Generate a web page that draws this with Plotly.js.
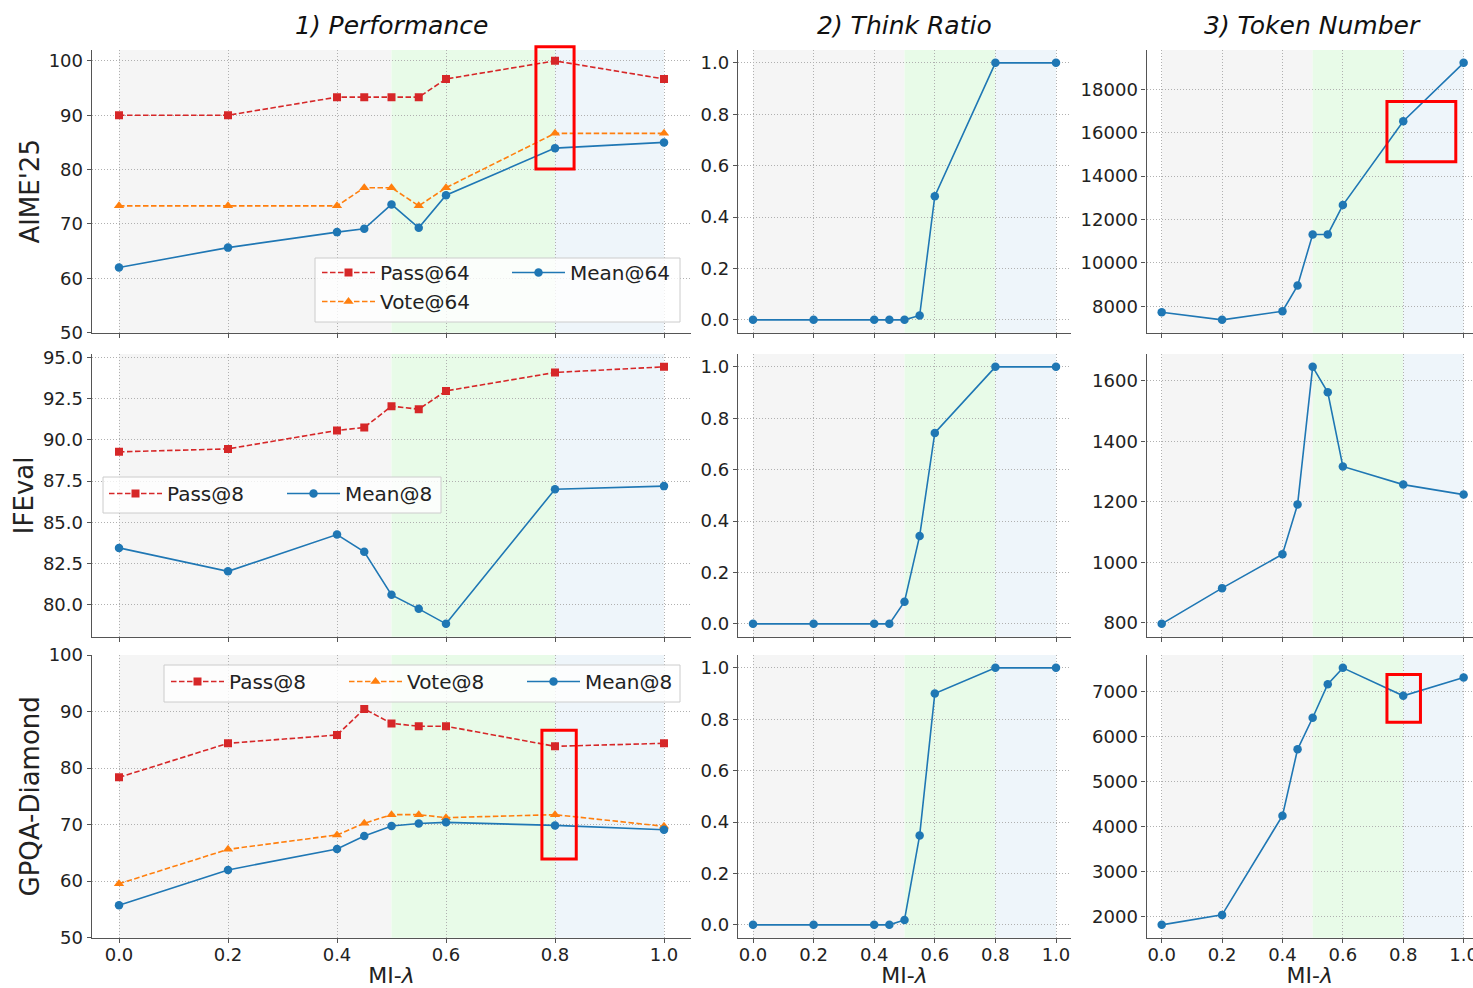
<!DOCTYPE html>
<html><head><meta charset="utf-8">
<script src="https://cdn.plot.ly/plotly-3.0.1.min.js"></script>
<style>html,body{margin:0;padding:0;background:#fff}</style>
</head><body><div id="chart" style="width:1473px;height:988px"></div>
<script>
// ---------------- data ----------------
const lambdas = [0.0, 0.2, 0.4, 0.45, 0.5, 0.55, 0.6, 0.8, 1.0];

const aimePass   = [90.0, 90.0, 93.33, 93.33, 93.33, 93.33, 96.67, 100.0, 96.67];
const aimeVote   = [73.33, 73.33, 73.33, 76.67, 76.67, 73.33, 76.67, 86.67, 86.67];
const aimeMean   = [62.0, 65.65, 68.5, 69.1, 73.6, 69.3, 75.3, 83.95, 85.0];
const aimeThink  = [0, 0, 0, 0, 0, 0.017, 0.481, 1.0, 1.0];
const aimeTokens = [7724, 7374, 7770, 8953, 11310, 11315, 12666, 16531, 19224];

const ifevalPass   = [89.27, 89.45, 90.57, 90.75, 92.04, 91.86, 92.97, 94.09, 94.43];
const ifevalMean   = [83.44, 82.02, 84.25, 83.2, 80.59, 79.74, 78.83, 87.0, 87.19];
const ifevalThink  = [0, 0, 0, 0, 0.086, 0.342, 0.743, 1.0, 1.0];
const ifevalTokens = [797, 915, 1027, 1191, 1646, 1562, 1317, 1257, 1224];

const gpqaPass   = [78.37, 84.38, 85.85, 90.45, 87.9, 87.4, 87.4, 83.85, 84.38];
const gpqaVote   = [59.55, 65.63, 68.17, 70.23, 71.76, 71.76, 71.23, 71.76, 69.7];
const gpqaMean   = [55.73, 61.99, 65.7, 68.0, 69.77, 70.2, 70.4, 69.86, 69.1];
const gpqaThink  = [0, 0, 0, 0, 0.019, 0.348, 0.90, 1.0, 1.0];
const gpqaTokens = [1823, 2044, 4243, 5712, 6412, 7155, 7518, 6898, 7303];

const rowLabels = ["AIME'25", "IFEval", "GPQA-Diamond"];
const colTitles = ["1) Performance", "2) Think Ratio", "3) Token Number"];
const xTickVals = [0.0, 0.2, 0.4, 0.6, 0.8, 1.0];
const xLabel = "MI-<i>λ</i>";

// shaded λ regions
const regionEdges  = [0.0, 0.5, 0.8, 1.0];
const regionColors = ['#f5f5f5', '#e8fbe8', '#eef5fa'];

// red highlight boxes: [row, col, x0, x1, y0, y1]
const highlights = [
  [0, 0, 0.765, 0.835, 80.1, 102.6],
  [2, 0, 0.776, 0.839, 63.9, 86.7],
  [0, 2, 0.746, 0.974, 14660, 17440],
  [2, 2, 0.746, 0.857, 6315, 7370]
];

// ---------------- geometry ----------------
const W = 1473, H = 988;
const colPx = [[91.75, 691.25], [737.85, 1071.15], [1146.6, 1473]];
const rowPx = [[50, 332.7], [354, 636.7], [655, 937.7]];
const xRanges = [[-0.05, 1.05], [-0.05, 1.05], [-0.05, 1.031]];

function autoRange(arr) {
  const mn = Math.min(...arr), mx = Math.max(...arr), s = mx - mn;
  return [mn - 0.05 * s, mx + 0.05 * s];
}

const yCfg = [
  [{range: [50, 102], dtick: 10, fmt: 'd'},
   {range: autoRange(aimeThink), dtick: 0.2, fmt: '.1f'},
   {range: autoRange(aimeTokens), dtick: 2000, fmt: 'd'}],
  [{range: autoRange(ifevalPass.concat(ifevalMean)), dtick: 2.5, fmt: '.1f'},
   {range: autoRange(ifevalThink), dtick: 0.2, fmt: '.1f'},
   {range: autoRange(ifevalTokens), dtick: 200, fmt: 'd'}],
  [{range: [50, 100], dtick: 10, fmt: 'd'},
   {range: autoRange(gpqaThink), dtick: 0.2, fmt: '.1f'},
   {range: autoRange(gpqaTokens), dtick: 1000, fmt: 'd'}]
];

const C = {pass: '#d62728', vote: '#ff7f0e', mean: '#1f77b4'};
const styles = {
  pass: {line: {color: C.pass, width: 1.6, dash: '5.5px,2.5px'}, marker: {symbol: 'square', size: 8, color: C.pass}},
  vote: {line: {color: C.vote, width: 1.6, dash: '5.5px,2.5px'}, marker: {symbol: 'triangle-up', size: 9, color: C.vote}},
  mean: {line: {color: C.mean, width: 1.6}, marker: {symbol: 'circle', size: 8.5, color: C.mean}}
};

function ax(r, c) { const i = r * 3 + c + 1; return i === 1 ? '' : String(i); }

const traces = [];
function add(r, c, y, kind, name, legend) {
  const s = styles[kind];
  traces.push({
    type: 'scatter', mode: 'lines+markers', x: lambdas, y: y,
    xaxis: 'x' + ax(r, c), yaxis: 'y' + ax(r, c),
    name: name, line: s.line, marker: s.marker,
    showlegend: !!legend, legend: legend || 'legend', hoverinfo: 'x+y'
  });
}

// Performance column
add(0, 0, aimePass, 'pass', 'Pass@64', 'legend');
add(0, 0, aimeVote, 'vote', 'Vote@64', 'legend');
add(0, 0, aimeMean, 'mean', 'Mean@64', 'legend2');
add(1, 0, ifevalPass, 'pass', 'Pass@8', 'legend3');
add(1, 0, ifevalMean, 'mean', 'Mean@8', 'legend3');
add(2, 0, gpqaPass, 'pass', 'Pass@8', 'legend4');
add(2, 0, gpqaVote, 'vote', 'Vote@8', 'legend4');
add(2, 0, gpqaMean, 'mean', 'Mean@8', 'legend4');
// Think ratio
add(0, 1, aimeThink, 'mean', 'Think');
add(1, 1, ifevalThink, 'mean', 'Think');
add(2, 1, gpqaThink, 'mean', 'Think');
// Tokens
add(0, 2, aimeTokens, 'mean', 'Tokens');
add(1, 2, ifevalTokens, 'mean', 'Tokens');
add(2, 2, gpqaTokens, 'mean', 'Tokens');

const font = 'DejaVu Sans, Verdana, sans-serif';
const layout = {
  width: W, height: H, margin: {l: 0, r: 0, t: 0, b: 0},
  paper_bgcolor: '#ffffff', plot_bgcolor: '#ffffff',
  font: {family: font, size: 18, color: '#222'},
  hovermode: 'closest',
  shapes: [], annotations: []
};

const axisCommon = {
  showline: true, linecolor: '#555', linewidth: 1.3, mirror: false,
  ticks: 'outside', ticklen: 4, tickwidth: 1.1, tickcolor: '#555',
  showgrid: true, gridcolor: '#b0b0b0', gridwidth: 0.9, griddash: '1px,2px',
  zeroline: false, automargin: false, tickfont: {size: 18, family: font, color: '#222'}
};

for (let r = 0; r < 3; r++) {
  for (let c = 0; c < 3; c++) {
    const id = ax(r, c);
    const cfg = yCfg[r][c];
    layout['xaxis' + id] = Object.assign({}, axisCommon, {
      domain: [colPx[c][0] / W, colPx[c][1] / W],
      range: xRanges[c], anchor: 'y' + id,
      tickmode: 'array', tickvals: xTickVals, tickformat: '.1f',
      showticklabels: r === 2, ticklabeloverflow: 'allow', ticklabelstandoff: -3,
      title: r === 2 ? {text: xLabel, font: {size: 22, family: font, color: '#222'}, standoff: 3} : undefined
    });
    layout['yaxis' + id] = Object.assign({}, axisCommon, {
      domain: [1 - rowPx[r][1] / H, 1 - rowPx[r][0] / H],
      range: cfg.range, anchor: 'x' + id,
      tick0: 0, dtick: cfg.dtick, tickformat: cfg.fmt,
      title: c === 0 ? {text: rowLabels[r], font: {size: 26, family: font, color: '#222'}, standoff: 1} : undefined
    });
    // background regions
    for (let k = 0; k < regionColors.length; k++) {
      layout.shapes.push({
        type: 'rect', layer: 'below', xref: 'x' + id, yref: 'y' + id + ' domain',
        x0: regionEdges[k], x1: regionEdges[k + 1], y0: 0, y1: 1,
        fillcolor: regionColors[k], line: {width: 0}
      });
    }
  }
}

// legend frames (matplotlib-style boxes), pixel -> paper
function px(x) { return x / W; }
function py(y) { return 1 - y / H; }
const legendBoxes = [[315, 258, 680, 322], [103, 477, 441, 513], [164, 665, 680, 702]];
legendBoxes.forEach(b => layout.shapes.push({
  type: 'rect', layer: 'above', xref: 'paper', yref: 'paper',
  x0: px(b[0]), x1: px(b[2]), y0: py(b[3]), y1: py(b[1]),
  fillcolor: 'rgba(255,255,255,0.8)', line: {color: '#cccccc', width: 1}
}));

// highlight rectangles
highlights.forEach(h => {
  const id = ax(h[0], h[1]);
  const yr = yCfg[h[0]][h[1]].range;
  layout.shapes.push({
    type: 'rect', layer: 'above', xref: 'x' + id, yref: 'y' + id + ' domain',
    x0: h[2], x1: h[3],
    y0: (h[4] - yr[0]) / (yr[1] - yr[0]), y1: (h[5] - yr[0]) / (yr[1] - yr[0]),
    line: {color: '#ff0000', width: 3}, fillcolor: 'rgba(0,0,0,0)'
  });
});

// column titles
const titleY = 25;
for (let c = 0; c < 3; c++) {
  layout.annotations.push({
    xref: 'paper', yref: 'paper', showarrow: false,
    x: (colPx[c][0] + (c === 2 ? 1478.8 : colPx[c][1])) / 2 / W, y: py(titleY),
    xanchor: 'center', yanchor: 'middle',
    text: '<i>' + colTitles[c] + '</i>', font: {size: 25, family: font, color: '#111'}
  });
}

const legendCommon = {
  xref: 'paper', yref: 'paper', xanchor: 'left', yanchor: 'top',
  bgcolor: 'rgba(0,0,0,0)', borderwidth: 0, font: {size: 20, family: font, color: '#222'},
  itemwidth: 53, tracegroupgap: 0
};
layout.legend  = Object.assign({}, legendCommon, {x: px(317), y: py(253), orientation: 'v'});
layout.legend2 = Object.assign({}, legendCommon, {x: px(507), y: py(253), orientation: 'v'});
layout.legend3 = Object.assign({}, legendCommon, {x: px(104), y: py(474), orientation: 'h', entrywidth: 110});
layout.legend4 = Object.assign({}, legendCommon, {x: px(166), y: py(662), orientation: 'h', entrywidth: 110});

Plotly.newPlot('chart', traces, layout, {displayModeBar: false, responsive: false});
</script>
</body></html>
